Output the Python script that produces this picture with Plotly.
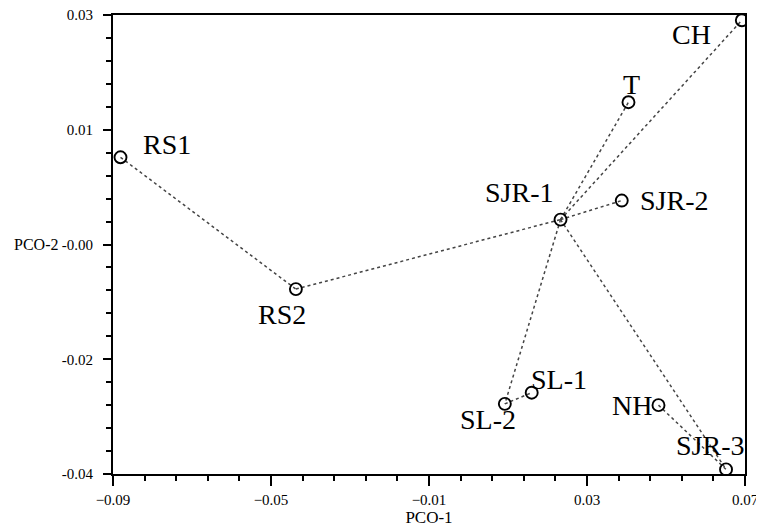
import plotly.graph_objects as go

# Sample names and PCO coordinates
names = ["RS1", "RS2", "SJR-1", "SJR-2", "T", "CH", "SL-1", "SL-2", "NH", "SJR-3"]
pco1 = [-0.0881, -0.0437, 0.0233, 0.0388, 0.0405, 0.0692, 0.0160, 0.0092, 0.0481, 0.0652]
pco2 = [0.0083, -0.0118, -0.0012, 0.0017, 0.0167, 0.0292, -0.0276, -0.0293, -0.0295, -0.0393]

# Minimum spanning tree links (pairs of sample names)
links = [("RS1", "RS2"), ("RS2", "SJR-1"), ("SJR-1", "T"), ("SJR-1", "CH"),
         ("SJR-1", "SJR-2"), ("SJR-1", "SL-2"), ("SL-2", "SL-1"),
         ("SJR-1", "SJR-3"), ("NH", "SJR-3")]

# Axis ticks
x_tick0, x_dtick, x_range = -0.09, 0.04, [-0.09, 0.07]
y_tickvals = [-0.04, -0.0225, -0.005, 0.0125, 0.03]
y_ticktext = ["-0.04", "-0.02", "-0.00", "0.01", "0.03"]
y_range = [-0.04, 0.03]

# label offsets in pixels (style)
label_shift = {
    "RS1": (46, 13), "RS2": (-14, -25), "SJR-1": (-42, 27), "SJR-2": (52, 0),
    "T": (3, 18), "CH": (-50, -14), "SL-1": (27, 13), "SL-2": (-17, -16),
    "NH": (-27, 0), "SJR-3": (-16, 24),
}

idx = {n: i for i, n in enumerate(names)}
lx, ly = [], []
for a, b in links:
    lx += [pco1[idx[a]], pco1[idx[b]], None]
    ly += [pco2[idx[a]], pco2[idx[b]], None]

fig = go.Figure()
fig.add_trace(go.Scatter(x=lx, y=ly, mode="lines",
                         line=dict(color="#444", width=1.5, dash="dot"),
                         hoverinfo="skip", showlegend=False))
fig.add_trace(go.Scatter(x=pco1, y=pco2, mode="markers", text=names,
                         marker=dict(symbol="circle-open", size=12,
                                     color="black", line=dict(color="black", width=1.9)),
                         showlegend=False))

serif = "Liberation Serif, Times New Roman, serif"
for n, x, y in zip(names, pco1, pco2):
    dx, dy = label_shift[n]
    fig.add_annotation(x=x, y=y, text=n, showarrow=False, xshift=dx, yshift=dy,
                       font=dict(family=serif, size=28, color="black"))

fig.add_annotation(x=0, y=-0.005, xref="paper", yref="y", text="PCO-2",
                   showarrow=False, xanchor="right", yanchor="middle", xshift=-53,
                   font=dict(family=serif, size=16, color="black"))

axis_common = dict(showline=True, linecolor="black", linewidth=2, mirror=True,
                   showgrid=False, zeroline=False, ticks="outside",
                   tickcolor="black", tickwidth=1.5, automargin=False,
                   ticklabeloverflow="allow",
                   tickfont=dict(family=serif, size=15, color="black"))

# The page body adds an 8px offset, so the figure is sized to fit inside it.
fig.update_layout(
    width=756, height=519,
    margin=dict(l=105, r=19, t=7, b=53),
    paper_bgcolor="white", plot_bgcolor="white",
    xaxis=dict(range=x_range, tick0=x_tick0, dtick=x_dtick, ticklen=10,
               ticklabelstandoff=1,
               minor=dict(ticks="outside", dtick=0.008, tick0=x_tick0, ticklen=5,
                          tickcolor="black", tickwidth=1.5),
               title=dict(text="PCO-1", standoff=7,
                          font=dict(family=serif, size=17, color="black")),
               **axis_common),
    yaxis=dict(range=y_range, tickmode="array", tickvals=y_tickvals,
               ticktext=y_ticktext, ticklen=8, ticklabelstandoff=7,
               minor=dict(ticks="outside", dtick=0.0035, tick0=-0.04, ticklen=5,
                          tickcolor="black", tickwidth=1.5),
               **axis_common),
)

fig.write_html("out.html")
